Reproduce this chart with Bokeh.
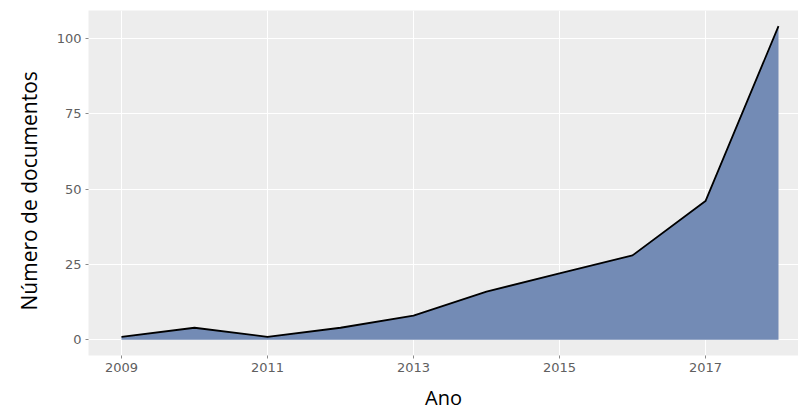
from bokeh.plotting import figure
from bokeh.models import Range1d, FixedTicker, Title
from bokeh.embed import file_html
from bokeh.resources import INLINE

years = [2009, 2010, 2011, 2012, 2013, 2014, 2015, 2016, 2017, 2018]
docs = [1, 4, 1, 4, 8, 16, 22, 28, 46, 104]
x_ticks = [2009, 2011, 2013, 2015, 2017]
y_ticks = [0, 25, 50, 75, 100]
x_title = "Ano"
y_title = "Número de documentos"

p = figure(width=798, height=414,
           x_range=Range1d(2008.548, 2018.274), y_range=Range1d(-5.2, 109.2),
           output_backend="svg", toolbar_location=None,
           min_border_left=88, min_border_right=0, min_border_top=10, min_border_bottom=59)
p.background_fill_color = "#EDEDED"
p.border_fill_color = "white"
p.outline_line_color = None

p.varea(x=years, y1=0, y2=docs, fill_color="#738BB5", fill_alpha=1.0)
p.line(x=years, y=docs, line_color="black", line_width=1.8)

p.xaxis.ticker = FixedTicker(ticks=x_ticks)
p.yaxis.ticker = FixedTicker(ticks=y_ticks)
for ax in (p.xaxis, p.yaxis):
    ax.axis_line_color = None
    ax.major_tick_line_color = "#8a8a8a"
    ax.major_tick_out = 3
    ax.major_tick_in = 0
    ax.minor_tick_line_color = None
    ax.major_label_text_font = "DejaVu Sans"
    ax.major_label_text_font_size = "13px"
    ax.major_label_text_color = "#606060"
p.xaxis.major_label_standoff = 4
p.yaxis.major_label_standoff = 4

p.xaxis.axis_label = x_title
p.xaxis.axis_label_standoff = 9
p.xaxis.axis_label_text_font = "Open Sans"
p.xaxis.axis_label_text_font_size = "20px"
p.xaxis.axis_label_text_font_style = "normal"
p.xaxis.axis_label_text_color = "black"

p.xgrid.grid_line_color = "white"
p.ygrid.grid_line_color = "white"
p.xgrid.grid_line_width = 1
p.ygrid.grid_line_width = 1

p.add_layout(Title(text=y_title, align="left", offset=45, standoff=21,
                   text_font="Open Sans", text_font_size="21px", text_font_style="normal",
                   text_color="black"), "left")

open("out.html", "w").write(file_html(p, INLINE))
